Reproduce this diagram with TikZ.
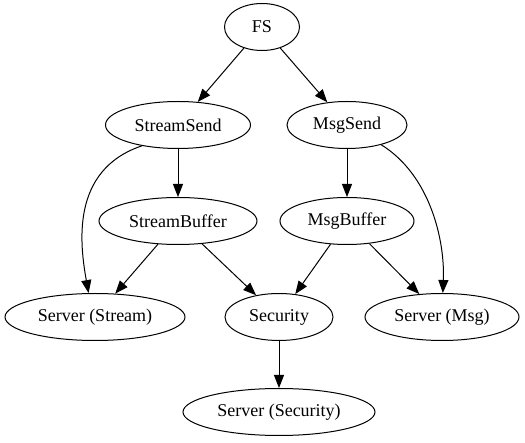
\documentclass[tikz,border=0pt]{standalone}
\usepackage{fontspec}
\setmainfont{Liberation Serif}
\usetikzlibrary{shapes, arrows.meta, positioning}

\begin{document}
\begin{tikzpicture}[
	x=1pt, y=-1pt,
	every node/.style = {shape=ellipse, draw, line width=1pt, inner sep=0mm, minimum height=47pt, font=\fontsize{18}{21}\selectfont},
	arr/.style = {draw, line width=1pt, -{Triangle[length=13pt, width=10pt]}},
	]
\useasboundingbox (0,0) rectangle (525,443);
% top rows
\node[minimum width=75pt] (fs) at (262,27) {FS};
\node[minimum width=145pt] (ss) at (178,125) {StreamSend};
\node[minimum width=120pt] (ms) at (347,125) {MsgSend};
\node[minimum width=158pt] (sb) at (178,221) {StreamBuffer};
\node[minimum width=134pt] (mb) at (347,221) {MsgBuffer};
% servers
\node[minimum width=180pt] (srvS) at (95,317) {Server (Stream)};
\node[minimum width=108pt] (sec) at (279,317) {Security};
\node[minimum width=154pt] (srvM) at (442,317) {Server (Msg)};
\node[minimum width=192pt] (srvSec) at (279,412) {Server (Security)};
% edges
\draw[arr] (fs) -- (ss);
\draw[arr] (fs) -- (ms);
\draw[arr] (ss) -- (sb);
\draw[arr] (ms) -- (mb);
\draw[arr] (ss.210) .. controls (70,170) and (80,245) .. (srvS.105);
\draw[arr] (ms.330) .. controls (430,175) and (445,240) .. (srvM.88);
\draw[arr] (sb) -- (srvS);
\draw[arr] (sb) -- (sec);
\draw[arr] (mb) -- (sec);
\draw[arr] (mb) -- (srvM);
\draw[arr] (sec) -- (srvSec);
\end{tikzpicture}
\end{document}
